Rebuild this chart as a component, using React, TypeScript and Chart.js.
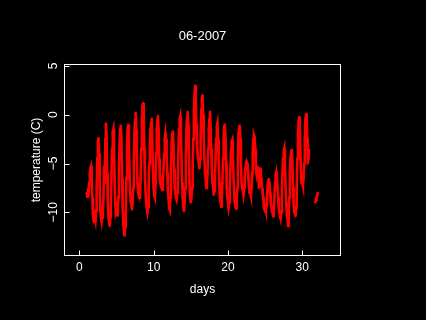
import { useEffect, useRef } from "react";
import { Chart, registerables } from "chart.js";

Chart.register(...registerables);

const chartTitle = "06-2007";
const xAxisTitle = "days";
const yAxisTitle = "temperature (C)";
const xTickValues = [0, 10, 20, 30];
const yTickValues = [-10, -5, 0, 5];
const xRange = [-1.99, 35.14];
const yRange = [-14.43, 5.15];

const firstDay = 1;
const readingsPerDay = 12; // every 2 hours: 00h, 02h, ..., 22h
const dailyReadings: number[][] = [
  [-8.0, -8.4, -7.6, -8.2, -7.0, -6.0, -5.5, -5.3, -6.5, -8.5, -10.2, -10.8],
  [-11.0, -10.6, -10.9, -9.8, -7.5, -4.5, -2.8, -2.4, -4.0, -7.5, -9.8, -10.5],
  [-10.9, -10.2, -10.6, -8.5, -5.3, -7.0, -2.5, -0.9, -2.0, -6.0, -9.0, -10.4],
  [-11.0, -11.4, -10.5, -9.5, -6.0, -3.5, -1.8, -1.5, -3.0, -6.5, -9.0, -10.0],
  [-9.8, -10.3, -9.7, -8.5, -5.5, -3.0, -1.5, -1.1, -2.5, -6.5, -9.5, -11.0],
  [-11.8, -12.4, -11.5, -10.0, -6.5, -3.0, -1.5, -1.0, -2.0, -5.5, -8.0, -8.8],
  [-9.2, -9.7, -9.0, -7.5, -5.0, -2.0, -0.5, 0.2, -1.5, -4.5, -7.0, -8.0],
  [-8.2, -8.5, -7.8, -6.5, -3.5, -0.5, 0.8, 1.2, -0.5, -3.5, -6.5, -8.0],
  [-9.0, -9.6, -10.0, -9.5, -7.5, -5.0, -3.0, -1.5, -0.8, -0.4, -3.0, -6.0],
  [-7.5, -8.3, -8.5, -7.0, -4.0, -1.5, -0.5, -0.1, -1.5, -4.5, -6.5, -7.0],
  [-6.8, -7.5, -7.7, -7.0, -5.5, -4.0, -2.5, -1.9, -2.5, -4.0, -6.0, -7.8],
  [-8.5, -9.5, -9.7, -8.5, -5.5, -3.0, -2.0, -1.7, -3.0, -5.5, -7.5, -8.0],
  [-8.5, -8.7, -8.0, -6.5, -3.5, -1.5, -0.5, -0.2, -1.5, -4.5, -7.0, -8.5],
  [-9.5, -9.9, -9.0, -7.5, -4.0, -1.5, -0.2, 0.3, -1.0, -4.0, -7.0, -8.5],
  [-9.0, -8.5, -7.5, -5.5, -2.5, 0.5, 2.0, 3.0, 1.5, -1.0, -3.0, -4.0],
  [-4.5, -5.0, -5.5, -4.5, -2.0, 0.5, 1.5, 2.0, 0.0, -2.5, -4.5, -6.0],
  [-6.5, -7.5, -7.0, -6.0, -3.5, -1.5, -0.5, 0.3, -1.5, -3.5, -5.5, -7.0],
  [-7.5, -8.2, -7.8, -6.5, -4.5, -2.5, -1.2, -0.9, -2.5, -4.5, -7.0, -8.5],
  [-8.8, -9.4, -8.5, -7.0, -4.5, -2.5, -1.2, -1.0, -2.5, -5.0, -7.5, -8.5],
  [-9.0, -9.5, -9.0, -7.5, -5.5, -3.5, -2.8, -2.6, -4.0, -6.5, -8.0, -9.0],
  [-9.3, -9.6, -9.0, -7.5, -4.5, -2.0, -1.3, -1.1, -2.5, -5.0, -7.0, -7.5],
  [-7.8, -8.2, -7.5, -6.5, -5.5, -5.0, -4.8, -5.0, -5.5, -6.5, -7.5, -8.0],
  [-8.0, -8.3, -7.5, -6.0, -4.0, -2.5, -2.1, -2.3, -3.5, -5.5, -6.0, -5.5],
  [-5.3, -6.0, -7.5, -7.0, -5.5, -6.0, -6.6, -7.5, -8.0, -8.5, -9.5, -9.7],
  [-9.5, -9.8, -9.3, -8.5, -7.5, -6.8, -6.6, -7.0, -8.0, -9.0, -9.3, -9.9],
  [-10.0, -10.4, -9.8, -8.5, -7.0, -6.2, -5.9, -6.5, -7.5, -8.5, -9.5, -10.0],
  [-10.3, -10.6, -10.0, -8.5, -6.0, -4.5, -3.8, -3.5, -5.0, -7.5, -9.0, -10.2],
  [-10.6, -11.4, -10.5, -8.5, -6.0, -4.5, -3.8, -3.6, -5.0, -7.5, -9.0, -10.0],
  [-9.8, -10.4, -9.5, -7.5, -4.5, -2.0, -0.8, -0.2, -1.5, -4.0, -6.5, -7.0],
  [-7.0, -7.3, -6.5, -5.0, -2.5, -0.5, 0.0, 0.1, -2.5, -5.0, -4.5, -3.6],
];

const lateDays = [31.75, 31.85, 31.95, 32.05, 32.12];
const lateTemps = [-9.0, -8.7, -8.4, -8.1, -8.0];

const FONT = '"Liberation Sans", Arial, sans-serif';

function fmt(v: number): string {
  return v < 0 ? "\u2212" + Math.abs(v) : String(v);
}

const framePlugin = {
  id: "rframe",
  beforeDraw(chart: any) {
    const { ctx, width, height } = chart;
    ctx.save();
    ctx.fillStyle = "#000";
    ctx.fillRect(0, 0, width, height);
    ctx.restore();
  },
  afterDraw(chart: any) {
    const { ctx, chartArea: a, scales } = chart;
    const x = scales.x;
    const y = scales.y;
    ctx.save();
    ctx.strokeStyle = "#fff";
    ctx.lineWidth = 1;
    ctx.strokeRect(a.left, a.top, a.right - a.left, a.bottom - a.top);
    ctx.beginPath();
    xTickValues.forEach((v) => {
      const px = Math.round(x.getPixelForValue(v)) + 0.5;
      ctx.moveTo(px, a.bottom);
      ctx.lineTo(px, a.bottom - 5);
    });
    yTickValues.forEach((v) => {
      const py = Math.round(y.getPixelForValue(v)) + 0.5;
      ctx.moveTo(a.left, py);
      ctx.lineTo(a.left + 5, py);
    });
    ctx.stroke();

    ctx.fillStyle = "#fff";
    ctx.font = "12px " + FONT;
    ctx.textAlign = "center";
    ctx.textBaseline = "alphabetic";
    xTickValues.forEach((v) => {
      ctx.fillText(fmt(v), x.getPixelForValue(v), 271);
    });
    yTickValues.forEach((v) => {
      ctx.save();
      ctx.translate(57, y.getPixelForValue(v));
      ctx.rotate(-Math.PI / 2);
      ctx.fillText(fmt(v), 0, 0);
      ctx.restore();
    });
    const cx = (a.left + a.right) / 2;
    const cy = (a.top + a.bottom) / 2;
    ctx.fillText(xAxisTitle, cx, 293);
    ctx.save();
    ctx.translate(40, cy);
    ctx.rotate(-Math.PI / 2);
    ctx.fillText(yAxisTitle, 0, 0);
    ctx.restore();
    ctx.font = "13px " + FONT;
    ctx.fillText(chartTitle, cx, 40);
    ctx.restore();
  },
};

export default function App() {
  const canvasRef = useRef<HTMLCanvasElement | null>(null);

  useEffect(() => {
    document.body.style.margin = "0";
    document.body.style.background = "#000";
    const canvas = canvasRef.current;
    if (!canvas) return;
    const mainPoints = dailyReadings.flatMap((row, i) =>
      row.map((t, j) => ({ x: firstDay + i + j / readingsPerDay, y: t }))
    );
    const latePoints = lateDays.map((d, i) => ({ x: d, y: lateTemps[i] }));
    const common = {
      showLine: true,
      borderColor: "#ff0000",
      backgroundColor: "#ff0000",
      borderWidth: 2.6,
      pointRadius: 1.5,
      pointStyle: "rect" as const,
      pointBorderWidth: 0,
    };
    const chart = new Chart(canvas, {
      type: "scatter",
      data: {
        datasets: [
          { ...common, data: mainPoints },
          { ...common, data: latePoints },
        ],
      },
      options: {
        animation: false,
        responsive: false,
        maintainAspectRatio: false,
        devicePixelRatio: 1,
        layout: { padding: { left: 64.5, right: 85.5, top: 64.5, bottom: 64.5 } },
        scales: {
          x: { type: "linear", min: xRange[0], max: xRange[1], display: false },
          y: { type: "linear", min: yRange[0], max: yRange[1], display: false },
        },
        plugins: {
          legend: { display: false },
          tooltip: { enabled: false },
          title: { display: false },
        },
      },
      plugins: [framePlugin],
    });
    return () => chart.destroy();
  }, []);

  return (
    <div style={{ position: "fixed", left: 0, top: 0, width: 426, height: 320, background: "#000" }}>
      <canvas ref={canvasRef} width={426} height={320} style={{ width: 426, height: 320, display: "block" }} />
    </div>
  );
}
